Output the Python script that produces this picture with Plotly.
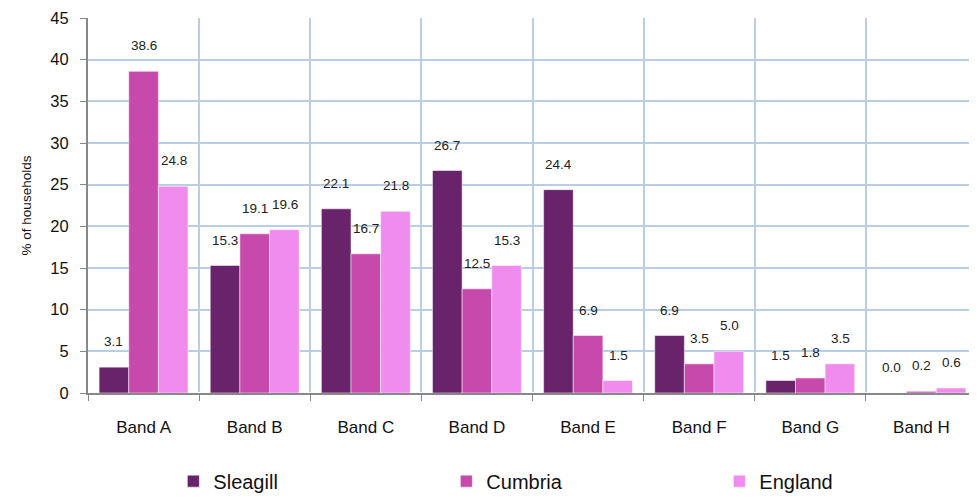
import plotly.graph_objects as go

bands = ["Band A", "Band B", "Band C", "Band D", "Band E", "Band F", "Band G", "Band H"]
sleagill = [3.1, 15.3, 22.1, 26.7, 24.4, 6.9, 1.5, 0.0]
cumbria = [38.6, 19.1, 16.7, 12.5, 6.9, 3.5, 1.8, 0.2]
england = [24.8, 19.6, 21.8, 15.3, 1.5, 5.0, 3.5, 0.6]

series = [
    ("Sleagill", sleagill, "#69236B"),
    ("Cumbria", cumbria, "#C849AC"),
    ("England", england, "#F08CEE"),
]

FONT = "Arial, Liberation Sans, sans-serif"

fig = go.Figure()
for name, vals, color in series:
    fig.add_trace(go.Bar(
        name=name, x=bands, y=vals,
        marker=dict(color=color, line=dict(color="rgba(255,255,255,0.5)", width=1)),
    ))

# value labels above each bar, nudged sideways onto their own bar in the group
shifts = [-30, 0, 30]
for (name, vals, color), dx in zip(series, shifts):
    for b, v in zip(bands, vals):
        fig.add_annotation(
            x=b, y=v, text=f"{v:.1f}", showarrow=False,
            xshift=dx, yshift=16, yanchor="bottom",
            font=dict(family=FONT, size=13.5, color="#222222"),
        )

# page body has an 8px margin, so the figure is a bit smaller than the window
fig.update_layout(
    width=969, height=489,
    margin=dict(l=80, r=0, t=10, b=104, autoexpand=False),
    paper_bgcolor="white", plot_bgcolor="white",
    barmode="group", bargap=0.2, bargroupgap=0,
    font=dict(family=FONT, color="#111111"),
    showlegend=True,
    legend=dict(
        orientation="h", x=0.096, y=-0.183, xanchor="left", yanchor="top",
        entrywidth=228, font=dict(size=20),
    ),
)
fig.update_xaxes(
    automargin=False,
    showline=True, linecolor="#888888", linewidth=2,
    tickson="boundaries", ticks="outside", ticklen=6, tickcolor="#888888",
    showgrid=True, gridcolor="#B9CDE5", gridwidth=2,
    tickfont=dict(size=17), ticklabelstandoff=18,
)
fig.update_yaxes(
    automargin=False, ticklabeloverflow="allow",
    range=[0, 45], dtick=5,
    showline=True, linecolor="#888888", linewidth=2,
    ticks="outside", ticklen=6, tickcolor="#888888",
    showgrid=True, gridcolor="#B9CDE5", gridwidth=2,
    tickfont=dict(size=16.5), ticklabelstandoff=8,
    title=dict(text="% of households", font=dict(size=13.5), standoff=16),
)

fig.write_html("out.html")
